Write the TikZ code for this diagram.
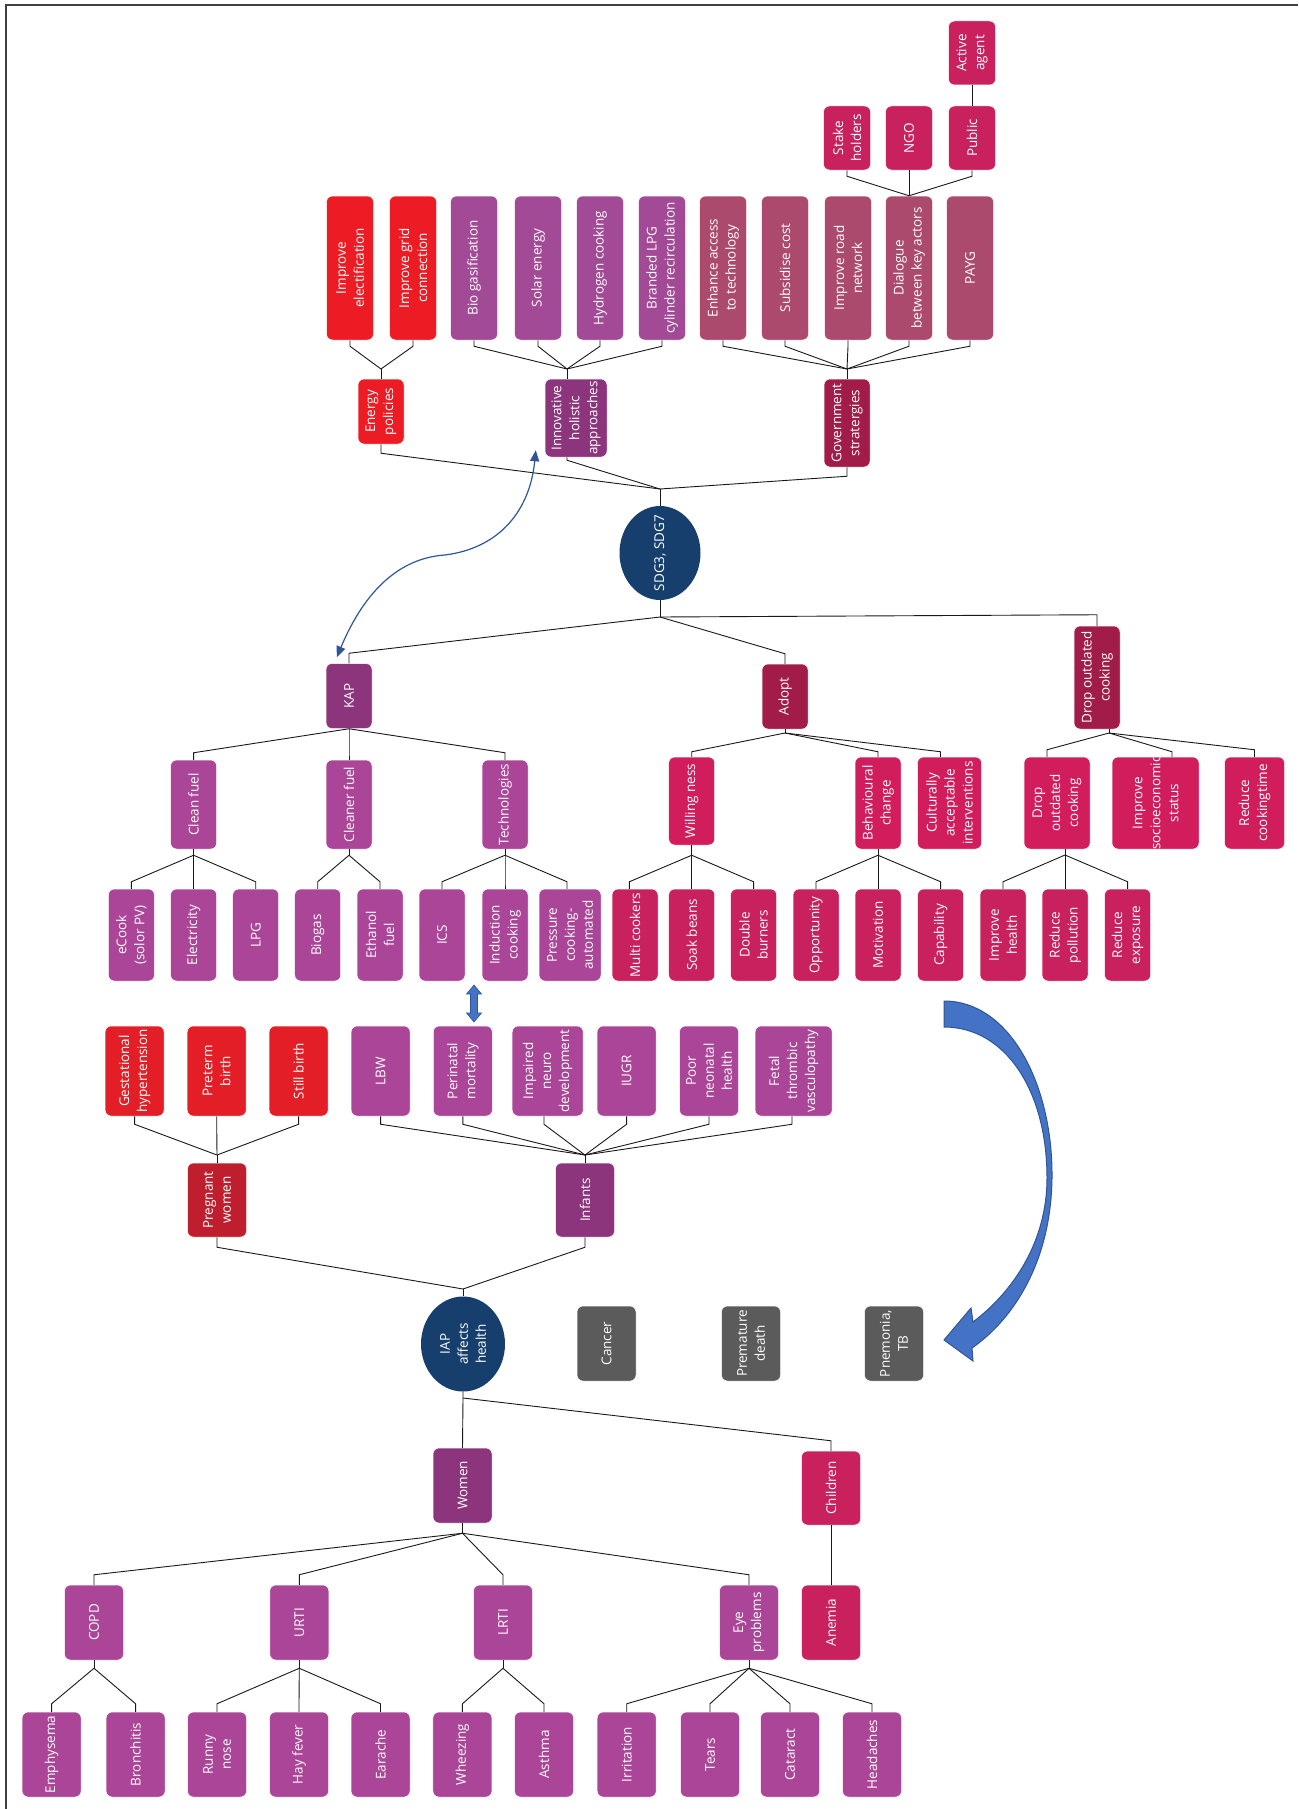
\documentclass[tikz,border=0pt]{standalone}
\usepackage{fontspec}
\setmainfont{Open Sans}
\usetikzlibrary{calc,shapes.geometric,arrows.meta}
\definecolor{cred}{HTML}{ED1C24}
\definecolor{cred2}{HTML}{E41E26}
\definecolor{cdred}{HTML}{BE1E2D}
\definecolor{cpurA}{HTML}{A34A96}
\definecolor{cpurB}{HTML}{AB4597}
\definecolor{cdpur}{HTML}{8C347C}
\definecolor{cmauve}{HTML}{AB4A6D}
\definecolor{ccrimD}{HTML}{A11C48}
\definecolor{ccrim}{HTML}{C8215E}
\definecolor{ccrimB}{HTML}{D21D5D}
\definecolor{cnavy}{HTML}{163F6E}
\definecolor{cgray}{HTML}{5B5B5B}
\definecolor{cblue}{HTML}{4472C4}
\definecolor{cblueD}{HTML}{2F5597}
\tikzset{
  bx/.style={rectangle, rounded corners=6pt, draw=white, line width=0.5pt, inner sep=0pt},
  lbl/.style={rotate=90, align=center, text=white, inner sep=0pt, font=\fontsize{13.5}{18}\selectfont},
  conn/.style={draw=black!90, line width=0.9pt},
  ell/.style={ellipse, fill=cnavy, inner sep=0pt},
}
\newcommand\BX[7]{%
  \node[bx, fill=#6, minimum width=#4pt, minimum height=#5pt] (#1) at (#2,#3) {};
  \node[lbl] at (#1.center) {#7};}
\begin{document}
\begin{tikzpicture}[x=1pt,y=-1pt]
\useasboundingbox (0,0) rectangle (1298,1809);
\fill[white] (0,0) rectangle (1298,1809);
\draw[line width=1.6pt, black!75] (6,1809) -- (6,5) -- (1298,5);

% ---------- top row ----------
\BX{ie}{350}{268}{47}{144}{cred}{Improve\\electification}
\BX{ig}{413}{268}{47}{144}{cred}{Improve grid\\connection}
\BX{bg}{474}{268}{47}{144}{cpurA}{Bio gasification}
\BX{se}{538}{268}{47}{144}{cpurA}{Solar energy}
\BX{hc}{600}{268}{47}{144}{cpurA}{Hydrogen cooking}
\BX{bl}{662}{268}{47}{144}{cpurA}{Branded LPG\\cylinder recirculation}
\BX{ea}{723}{268}{47}{144}{cmauve}{Enhance access\\to technology}
\BX{sc}{785}{268}{47}{144}{cmauve}{Subsidise cost}
\BX{ir}{848}{268}{47}{144}{cmauve}{Improve road\\network}
\BX{dk}{909}{268}{47}{144}{cmauve}{Dialogue\\between key actors}
\BX{pg}{970}{268}{47}{144}{cmauve}{PAYG}
\BX{sh}{847}{138}{47}{64}{ccrim}{Stake\\holders}
\BX{ngo}{909}{138}{47}{64}{ccrim}{NGO}
\BX{pub}{972}{138}{47}{64}{ccrim}{Public}
\BX{aa}{972}{53}{47}{64}{ccrim}{Active\\agent}

\BX{ep}{381}{411.5}{46}{65}{cred}{Energy\\policies}
\BX{ih}{576}{418}{62}{78}{cdpur}{Innovative\\holistic\\approaches}
\BX{gs}{847}{423}{46}{88}{ccrimD}{Government\\stratergies}

\node[ell, minimum width=81pt, minimum height=94pt] (sdg) at (660,553) {};
\node[lbl] at (sdg.center) {SDG3, SDG7};

% ---------- KAP / Adopt / Drop ----------
\BX{kap}{349}{696}{46}{65}{cdpur}{KAP}
\BX{ad}{785}{696.5}{46}{65}{ccrimD}{Adopt}
\BX{dt}{1097}{677.5}{46}{103}{ccrimD}{Drop outdated\\cooking}

\BX{cf}{193.6}{804.5}{46}{89}{cpurB}{Clean fuel}
\BX{cl}{349}{804.5}{46}{89}{cpurB}{Cleaner fuel}
\BX{tc}{505}{804.5}{46}{89}{cpurB}{Technologies}
\BX{wn}{691.7}{801}{46}{88}{ccrimB}{Willing ness}
\BX{bc}{878}{803}{46}{92}{ccrimB}{Behavioural\\change}
\BX{ca}{949.5}{803}{64}{92}{ccrimB}{Culturally\\acceptable\\interventions}
\BX{d2}{1057}{803}{66}{92}{ccrimB}{Drop\\outdated\\cooking}
\BX{isc}{1155.5}{803}{87}{92}{ccrimB}{Improve\\socioeconomic\\status}
\BX{rc}{1254.5}{803}{60}{92}{ccrimB}{Reduce\\cookingtime}

\BX{ec}{131.4}{935}{46}{92}{cpurB}{eCook\\(solor PV)}
\BX{el}{193.6}{935}{46}{92}{cpurB}{Electricity}
\BX{lp}{255.7}{935}{46}{92}{cpurB}{LPG}
\BX{bi}{317.7}{935}{46}{92}{cpurB}{Biogas}
\BX{et}{380}{935}{46}{92}{cpurB}{Ethanol\\fuel}
\BX{ics}{442}{935}{46}{92}{cpurB}{ICS}
\BX{ind}{505}{935}{46}{92}{cpurB}{Induction\\cooking}
\BX{pc}{570}{935}{62}{92}{cpurB}{Pressure\\cooking-\\automated}
\BX{mc}{635}{935}{46}{92}{ccrim}{Multi cookers}
\BX{sb}{691.7}{935}{46}{92}{ccrim}{Soak beans}
\BX{db}{753.6}{935}{46}{92}{ccrim}{Double\\burners}
\BX{op}{816}{935}{46}{92}{ccrim}{Opportunity}
\BX{mo}{878}{935}{46}{92}{ccrim}{Motivation}
\BX{cp}{940.6}{935}{46}{92}{ccrim}{Capability}
\BX{ihl}{1003}{935}{46}{92}{ccrim}{Improve\\health}
\BX{rp}{1065}{935}{46}{92}{ccrim}{Reduce\\pollution}
\BX{rx}{1127.6}{935}{46}{92}{ccrim}{Reduce\\exposure}

% ---------- health ----------
\BX{gh}{134.6}{1071}{59}{90}{cred2}{Gestational\\hypertension}
\BX{pb}{216.7}{1071}{59}{90}{cred2}{Preterm\\birth}
\BX{stb}{298.6}{1071}{59}{90}{cred2}{Still birth}
\BX{lbw}{380.6}{1071}{59}{90}{cpurB}{LBW}
\BX{pm}{462.8}{1071}{59}{90}{cpurB}{Perinatal\\mortality}
\BX{imp}{547.7}{1071}{71}{90}{cpurB}{Impaired\\neuro\\development}
\BX{iu}{626.6}{1071}{59}{90}{cpurB}{IUGR}
\BX{pn}{709}{1071}{59}{90}{cpurB}{Poor\\neonatal\\health}
\BX{ft}{793.6}{1071}{77}{90}{cpurB}{Fetal\\thrombic\\vasculopathy}
\BX{pw}{217}{1200}{59}{74}{cdred}{Pregnant\\women}
\BX{inf}{585}{1200}{59}{74}{cdpur}{Infants}

\node[ell, minimum width=84pt, minimum height=95pt] (iap) at (463,1344) {};
\node[lbl] at (iap.center) {IAP\\affects\\health};
\BX{cn}{606.5}{1343.5}{59}{75}{cgray}{Cancer}
\BX{pd}{751}{1343.5}{59}{75}{cgray}{Premature\\death}
\BX{pnt}{894}{1343.5}{59}{75}{cgray}{Pnemonia,\\TB}

\BX{wo}{462.5}{1485.5}{59}{75}{cdpur}{Women}
\BX{chd}{831}{1488}{59}{74}{ccrim}{Children}
\BX{anm}{831}{1622.5}{59}{75}{ccrim}{Anemia}
\BX{copd}{94}{1622.5}{59}{75}{cpurB}{COPD}
\BX{urti}{299.3}{1622.5}{59}{75}{cpurB}{URTI}
\BX{lrti}{503}{1622.5}{59}{75}{cpurB}{LRTI}
\BX{eye}{749}{1622.5}{59}{75}{cpurB}{Eye\\problems}

\BX{em}{51.6}{1754.5}{59}{85}{cpurB}{Emphysema}
\BX{br}{135.6}{1754.5}{59}{85}{cpurB}{Bronchitis}
\BX{rn}{217}{1754.5}{59}{85}{cpurB}{Runny\\nose}
\BX{hf}{299}{1754.5}{59}{85}{cpurB}{Hay fever}
\BX{ear}{380.5}{1754.5}{59}{85}{cpurB}{Earache}
\BX{wh}{462.4}{1754.5}{59}{85}{cpurB}{Wheezing}
\BX{ast}{544}{1754.5}{59}{85}{cpurB}{Asthma}
\BX{irr}{626.7}{1754.5}{59}{85}{cpurB}{Irritation}
\BX{te}{710}{1754.5}{59}{85}{cpurB}{Tears}
\BX{cat}{790}{1754.5}{59}{85}{cpurB}{Cataract}
\BX{hd}{872}{1754.5}{59}{85}{cpurB}{Headaches}

% ---------- connectors: top ----------
\coordinate (jE) at (381,369);
\coordinate (jI) at (567,369);
\coordinate (jG) at (847,369);
\foreach \c in {ie,ig} \draw[conn] (\c.south) -- ++(0,6) -- (jE);
\draw[conn] (jE) -- (ep.north);
\foreach \c in {bg,se,hc,bl} \draw[conn] (\c.south) -- ++(0,6) -- (jI);
\draw[conn] (jI) -- (jI |- ih.north);
\foreach \c in {ea,sc,ir,dk,pg} \draw[conn] (\c.south) -- ++(0,6) -- (jG);
\draw[conn] (jG) -- (gs.north);
\foreach \c in {sh,ngo,pub} \draw[conn] (\c.south) -- ++(0,6) -- (dk.north);
\draw[conn] (aa.south) -- (pub.north);

\coordinate (jS1) at (660,489);
\draw[conn] (ep.south) -- ++(0,9) -- (jS1);
\draw[conn] (jI |- ih.south) -- ++(0,3) -- (jS1);
\draw[conn] (gs.south) -- ++(0,9) -- (jS1);
\draw[conn] (jS1) -- (sdg.north);
\coordinate (jS2) at (660,617);
\draw[conn] (sdg.south) -- (jS2);
\draw[conn] (jS2) -- ($(kap.north)+(0,-10)$) -- (kap.north);
\draw[conn] (jS2) -- ($(ad.north)+(0,-10)$) -- (ad.north);
\draw[conn] (jS2) -- ($(dt.north)+(0,-11)$) -- (dt.north);

% KAP
\foreach \c in {cf,cl,tc} \draw[conn] (kap.south) -- ($(\c.north)+(0,-7)$) -- (\c.north);
% Adopt
\coordinate (jA) at (785,733);
\draw[conn] (ad.south) -- (jA);
\foreach \c in {wn,bc} \draw[conn] (jA) -- ($(\c.north)+(0,-5)$) -- (\c.north);
\draw[conn] (jA) -- ($(ca.north)+(-9,-5)$) -- ($(ca.north)+(-9,0)$);
% Drop
\coordinate (jD) at (1109,733);
\draw[conn] (jD |- dt.south) -- (jD);
\draw[conn] (jD) -- ($(d2.north)+(-10,-7)$) -- ($(d2.north)+(-10,0)$);
\draw[conn] (jD) -- ($(isc.north)+(16.5,-5)$) -- ($(isc.north)+(16.5,0)$);
\draw[conn] (jD) -- ($(rc.north)+(0,-7)$) -- (rc.north);

% leaves
\coordinate (jCF) at ($(cf.south)+(0,6)$);
\draw[conn] (cf.south) -- (jCF);
\foreach \c in {ec,el,lp} \draw[conn] (jCF) -- ($(\c.north)+(0,-7)$) -- (\c.north);
\coordinate (jCL) at ($(cl.south)+(0,6)$);
\draw[conn] (cl.south) -- (jCL);
\foreach \c in {bi,et} \draw[conn] (jCL) -- ($(\c.north)+(0,-7)$) -- (\c.north);
\coordinate (jT) at ($(tc.south)+(0,6)$);
\draw[conn] (tc.south) -- (jT);
\foreach \c in {ics,ind} \draw[conn] (jT) -- ($(\c.north)+(0,-7)$) -- (\c.north);
\draw[conn] (jT) -- ($(pc.north)+(-3,-7)$) -- ($(pc.north)+(-3,0)$);
\coordinate (jW) at ($(wn.south)+(0,10)$);
\draw[conn] (wn.south) -- (jW);
\draw[conn] (jW) -- ($(mc.north)+(-5.6,-7)$) -- ($(mc.north)+(-5.6,0)$);
\foreach \c in {sb,db} \draw[conn] (jW) -- ($(\c.north)+(0,-7)$) -- (\c.north);
\coordinate (jB) at ($(bc.south)+(0,6)$);
\draw[conn] (bc.south) -- (jB);
\foreach \c in {op,mo,cp} \draw[conn] (jB) -- ($(\c.north)+(0,-7)$) -- (\c.north);
\coordinate (jD2) at (1065,855);
\draw[conn] (jD2 |- d2.south) -- (jD2);
\foreach \c in {ihl,rp,rx} \draw[conn] (jD2) -- ($(\c.north)+(0,-7)$) -- (\c.north);

% ---------- connectors: health ----------
\coordinate (jPW) at (217,1155);
\foreach \c in {gh,pb,stb} \draw[conn] (\c.south) -- ++(0,8) -- (jPW);
\draw[conn] (jPW) -- (pw.north);
\coordinate (jIN) at (585,1155);
\foreach \c in {lbw,pm,iu,pn} \draw[conn] (\c.south) -- ++(0,8) -- (jIN);
\draw[conn] ($(imp.south)+(-3.7,0)$) -- ++(0,8) -- (jIN);
\draw[conn] ($(ft.south)+(-1.6,0)$) -- ++(0,8) -- (jIN);
\draw[conn] (jIN) -- (inf.north);
\coordinate (jH) at (463,1289);
\draw[conn] (pw.south) -- ++(0,10) -- (jH);
\draw[conn] (inf.south) -- ++(0,10) -- (jH);
\draw[conn] (jH) -- (iap.north);
\coordinate (jH2) at (463,1398);
\draw[conn] (iap.south) -- (jH2) -- (wo.north);
\draw[conn] (jH2) -- ($(chd.north)+(0,-10)$) -- (chd.north);
\draw[conn] (chd.south) -- (anm.north);
\coordinate (jWo) at ($(wo.south)+(0,10)$);
\draw[conn] (wo.south) -- (jWo);
\foreach \c in {copd,urti,lrti,eye} \draw[conn] (jWo) -- ($(\c.north)+(0,-10)$) -- (\c.north);
\coordinate (jCO) at ($(copd.south)+(0,8)$);
\draw[conn] (copd.south) -- (jCO);
\foreach \c in {em,br} \draw[conn] (jCO) -- ($(\c.north)+(0,-8)$) -- (\c.north);
\coordinate (jU) at ($(urti.south)+(0,8)$);
\draw[conn] (urti.south) -- (jU);
\foreach \c in {rn,hf,ear} \draw[conn] (jU) -- ($(\c.north)+(0,-8)$) -- (\c.north);
\coordinate (jL) at ($(lrti.south)+(0,8)$);
\draw[conn] (lrti.south) -- (jL);
\foreach \c in {wh,ast} \draw[conn] (jL) -- ($(\c.north)+(0,-8)$) -- (\c.north);
\coordinate (jEy) at ($(eye.south)+(0,8)$);
\draw[conn] (eye.south) -- (jEy);
\foreach \c in {irr,te,cat,hd} \draw[conn] (jEy) -- ($(\c.north)+(0,-8)$) -- (\c.north);

% ---------- blue arrows ----------
\draw[cblueD, line width=1.2pt, {Triangle[width=9pt,length=11pt]}-{Triangle[width=9pt,length=11pt]}]
  ($(kap.north west)+(11,-6)$) .. controls (365,590) and (400,558) .. (445,555)
  .. controls (500,548) and (530,510) .. ($(ih.south west)+(-9,-7)$);

\filldraw[fill=cblue, draw=cblueD, line width=0.6pt]
  (474,985) -- (481.5,994) -- (477.5,994) -- (477.5,1013) -- (481.5,1013) -- (474,1022)
  -- (466.5,1013) -- (470.5,1013) -- (470.5,994) -- (466.5,994) -- cycle;

\filldraw[fill=cblue, draw=cblueD, line width=1pt]
  (944,1001) .. controls (1010,1001) and (1053,1085) .. (1052,1178)
  .. controls (1051,1260) and (1015,1318) .. (972,1348)
  -- (973,1361) -- (944,1340) -- (971,1308) -- (973,1322)
  .. controls (1015,1290) and (1047,1240) .. (1047,1178)
  .. controls (1047,1090) and (1005,1027) .. (944,1027) -- cycle;
\end{tikzpicture}
\end{document}
